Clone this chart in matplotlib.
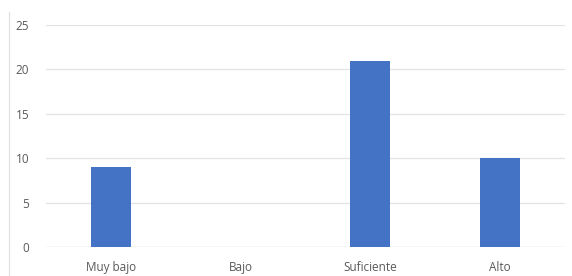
import matplotlib
matplotlib.use("Agg")
import matplotlib.pyplot as plt
from matplotlib.lines import Line2D

categories = ["Muy bajo", "Bajo", "Suficiente", "Alto"]
values = [9, 0, 21, 10]
yticks = [0, 5, 10, 15, 20, 25]

plt.rcParams['font.family'] = ['Open Sans', 'DejaVu Sans']

fig = plt.figure(figsize=(5.72, 2.76), dpi=100)
ax = fig.add_axes([46/572, 1-247/276, 519/572, 222/276])
x = list(range(len(categories)))
ax.bar(x, values, width=0.31, color="#4472C4", zorder=3)
ax.set_xlim(-0.5, len(categories)-0.5)
ax.set_ylim(0, 25)
ax.set_yticks(yticks)
ax.set_xticks(x)
ax.set_xticklabels(categories)
ax.tick_params(axis='both', length=0, labelsize=8.5, colors="#595959")
ax.tick_params(axis='y', pad=12)
ax.tick_params(axis='x', pad=10)
ax.yaxis.grid(True, color="#e3e3e3", linewidth=0.9, zorder=0)
for s in ax.spines.values():
    s.set_visible(False)
ax.axhline(0, color="#e3e3e3", linewidth=0.9, zorder=2)

fig.add_artist(Line2D([9/572, 9/572], [0, 1-12/276], transform=fig.transFigure,
                      color="#e0e0e0", linewidth=0.9))

fig.savefig("out.png", dpi=100)
